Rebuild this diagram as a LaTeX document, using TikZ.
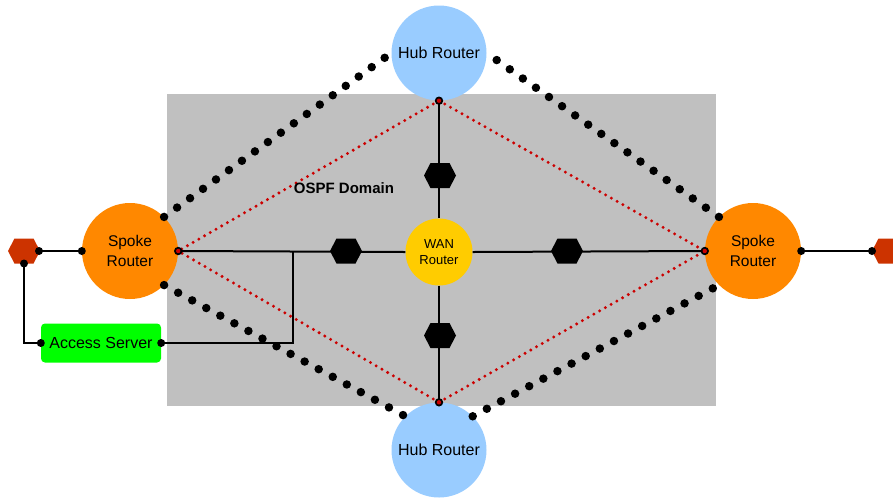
\documentclass[tikz,border=0pt]{standalone}
\usepackage{fontspec}
\setmainfont{Liberation Sans}
\definecolor{hubblue}{RGB}{153,204,255}
\definecolor{spokeorange}{RGB}{255,136,0}
\definecolor{wanyellow}{RGB}{255,204,0}
\definecolor{servergreen}{RGB}{0,255,0}
\definecolor{hexred}{RGB}{204,51,0}
\definecolor{dotred}{RGB}{204,0,0}
\definecolor{domaingray}{RGB}{192,192,192}
\begin{document}
\begin{tikzpicture}[x=1pt,y=-1pt,
  hub/.style={circle,fill=hubblue,minimum size=95pt,inner sep=0pt,align=center,font=\fontsize{16}{18}\selectfont},
  spoke/.style={circle,fill=spokeorange,minimum size=96pt,inner sep=0pt,align=center,font=\fontsize{15.5}{19.5}\selectfont},
  wan/.style={circle,fill=wanyellow,minimum size=67pt,inner sep=0pt,align=center,font=\fontsize{13}{15.5}\selectfont},
  server/.style={rectangle,rounded corners=4pt,fill=servergreen,minimum width=120pt,minimum height=39pt,inner sep=0pt,font=\fontsize{16}{18}\selectfont},
  link/.style={line width=2pt,black},
  bigdots/.style={black,line width=8.5pt,line cap=round,dash pattern=on 0pt off 16pt},
  reddots/.style={dotred,line width=3.3pt,line cap=round,dash pattern=on 0pt off 6.6pt},
  hexa/.pic={\fill[pic actions] (-16,0) -- (-9.5,-12.5) -- (9.5,-12.5) -- (16,0) -- (9.5,12.5) -- (-9.5,12.5) -- cycle;},
]
\useasboundingbox (0,0) rectangle (893,499);
% OSPF domain area
\fill[domaingray] (167,94) rectangle (716,406);

% routers and server
\node[hub] (hubT) at (439,53) {Hub Router};
\node[hub] (hubB) at (439,450) {Hub Router};
\node[spoke] (spokeL) at (130,251) {Spoke\\Router};
\node[spoke] (spokeR) at (753,251) {Spoke\\Router};
\node[wan] (wan) at (439,252) {WAN\\Router};
\node[server] (access) at (101,343) {Access Server};

% end points and junction
\coordinate (rhL) at (24,251);
\coordinate (rhLe) at (39,251);
\coordinate (rhLs) at (24,263.5);
\coordinate (rhR) at (888,251);
\coordinate (rhRw) at (872,251);
\coordinate (jn) at (293,251);

% big dotted links
\draw[bigdots] (spokeL.45) -- (hubT.west);
\draw[bigdots] (spokeR.135) -- (hubT.east);
\draw[bigdots] (spokeL.-45) -- (hubB.135);
\draw[bigdots] (hubB.45) -- (spokeR.-135);

% red dotted links
\draw[reddots] (hubT.south) -- (spokeL.east);
\draw[reddots] (hubT.south) -- (spokeR.west);
\draw[reddots] (hubB.north) -- (spokeL.east);
\draw[reddots] (hubB.north) -- (spokeR.west);

% solid links
\draw[link] (spokeL.east) -- (wan.west);
\draw[link] (wan.east) -- (spokeR.west);
\draw[link] (hubT.south) -- (wan.north);
\draw[link] (wan.south) -- (hubB.north);
\draw[link] (access.east) -| (jn);
\draw[link] (rhLe) -- (spokeL.west);
\draw[link] (rhLs) |- (access.west);
\draw[link] (spokeR.east) -- (rhRw);

% hexagons
\pic[fill=black] (hexW) at (346,251) {hexa};
\pic[fill=black] (hexE) at (567,251) {hexa};
\pic[fill=black] (hexN) at (440,175.5) {hexa};
\pic[fill=black] (hexS) at (440,335.5) {hexa};
\pic[fill=hexred] (hexL) at (rhL) {hexa};
\pic[fill=hexred] (hexR) at (rhR) {hexa};

% connection dots
\foreach \p in {rhLe,spokeL.west,rhLs,access.west,access.east,spokeR.east,rhRw}
  \fill[black] (\p) circle[radius=4pt];
\foreach \p in {spokeL.east,hubT.south,hubB.north,spokeR.west}{
  \fill[black] (\p) circle[radius=4.2pt];
  \fill[dotred] (\p) circle[radius=2.2pt];
}

\node[font=\bfseries\fontsize{15}{18}\selectfont] (ospf) at (344,188) {OSPF Domain};
\end{tikzpicture}
\end{document}
